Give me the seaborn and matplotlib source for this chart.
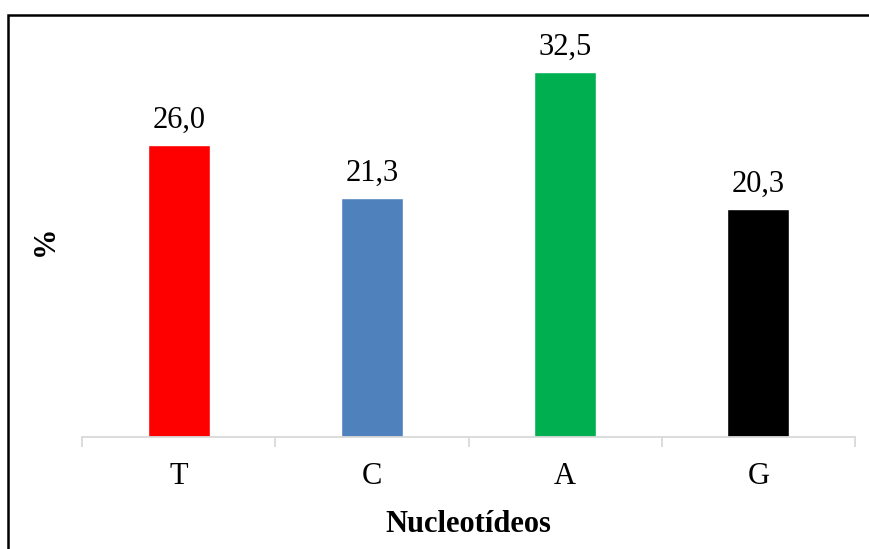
import matplotlib
matplotlib.use("Agg")
import matplotlib.pyplot as plt
import seaborn as sns
import pandas as pd
from matplotlib.patches import Rectangle

categories = ["T", "C", "A", "G"]
values = [26.0, 21.3, 32.5, 20.3]
colors = ["#FF0000", "#4F81BD", "#00B050", "#000000"]

sns.set_theme(style="white")
plt.rcParams['font.family'] = ['Liberation Serif', 'DejaVu Serif']

df = pd.DataFrame({"cat": categories, "val": values})

fig = plt.figure(figsize=(8.7, 5.49), dpi=100)
ax = fig.add_axes([82/870, 1-437/549, (855-82)/870, 0.716])

sns.barplot(data=df, x="cat", y="val", hue="cat", palette=colors, order=categories,
            hue_order=categories, width=0.32, legend=False, ax=ax, saturation=1)

ax.set_ylim(0, 35)
ax.set_xlim(-0.5, 3.5)
for c in ax.containers:
    ax.bar_label(c, labels=[f"{v:.1f}".replace(".", ",") for v in c.datavalues],
                 padding=7, fontsize=22, color="black")

for s in ["top", "right", "left"]:
    ax.spines[s].set_visible(False)
ax.spines["bottom"].set_color("#d9d9d9")
ax.spines["bottom"].set_linewidth(1.3)
ax.set_yticks([])

ax.set_xticks([i - 0.5 for i in range(5)])
ax.set_xticklabels([])
ax.tick_params(axis="x", which="major", length=7, width=1.3, color="#d9d9d9", direction="out", bottom=True)
ax.set_xticks(range(4), minor=True)
ax.set_xticklabels(categories, minor=True, fontsize=22, color="black")
ax.tick_params(axis="x", which="minor", length=0, pad=18)

ax.set_xlabel("Nucleotídeos", fontsize=22, fontweight="bold", labelpad=14, color="black")
ax.set_ylabel("%", fontsize=22, fontweight="bold", labelpad=16, color="black")

fig.add_artist(Rectangle((8/870, -0.1), 1.2, 1 - 15/549 + 0.1, transform=fig.transFigure,
                         fill=False, edgecolor="black", linewidth=1.8))

fig.savefig("out.png", dpi=100)
